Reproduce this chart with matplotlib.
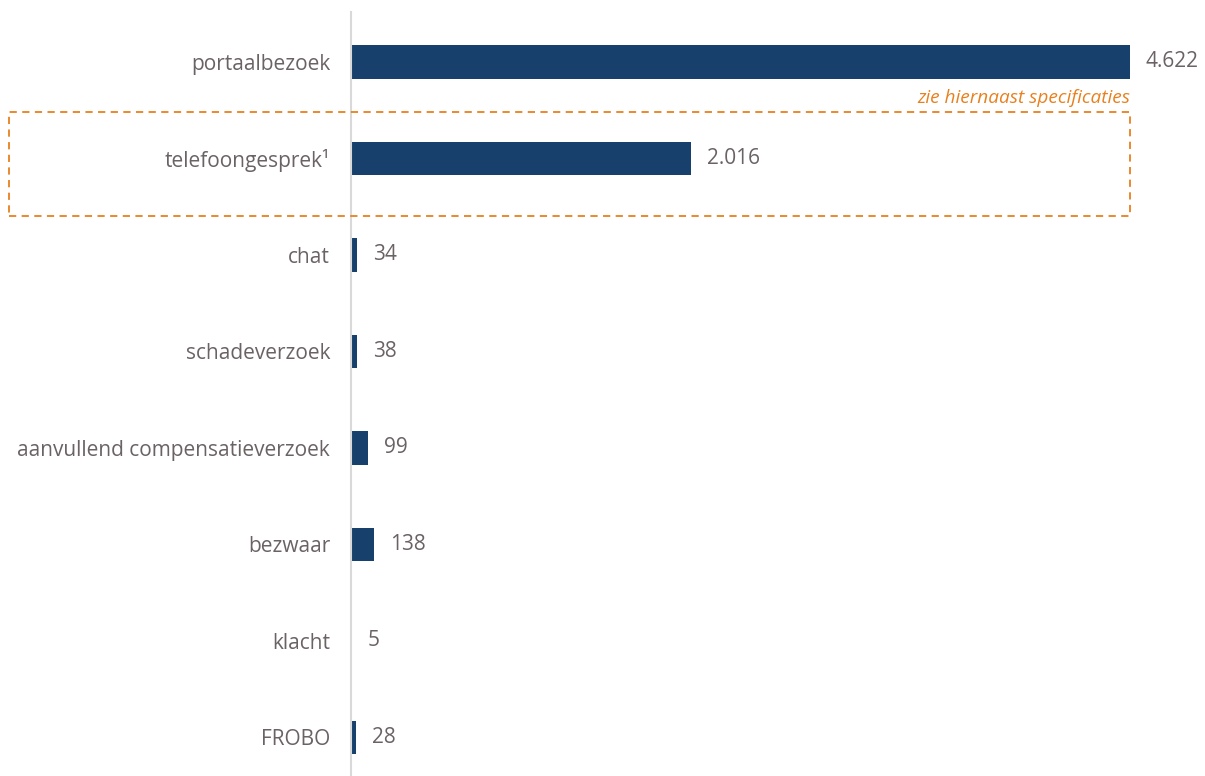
import matplotlib.pyplot as plt
from matplotlib.patches import Rectangle

plt.rcParams['font.family'] = ['Open Sans', 'DejaVu Sans']

categories = ['portaalbezoek', 'telefoongesprek¹', 'chat', 'schadeverzoek',
              'aanvullend compensatieverzoek', 'bezwaar', 'klacht', 'FROBO']
values = [4622, 2016, 34, 38, 99, 138, 5, 28]
value_labels = ['4.622', '2.016', '34', '38', '99', '138', '5', '28']

bar_col = '#17406d'
text_col = '#6b6264'
orange = '#e8801f'

fig = plt.figure(figsize=(12.05, 7.76), dpi=100)
ax = fig.add_axes([351/1205, 0, 842.5/1205, 1 - 12/776])

y = list(range(len(categories)))
ax.barh(y, values, height=0.35, color=bar_col)
ax.set_xlim(0, 5000)
ax.set_ylim(7.4, -0.518)

for yi, v, lab in zip(y, values, value_labels):
    ax.text(v + 95, yi, lab, va='center', ha='left', fontsize=15, color=text_col)

ax.set_yticks(y)
ax.set_yticklabels(categories, fontsize=15, color=text_col)
ax.tick_params(axis='y', length=0, pad=15)
ax.set_xticks([])
for s in ['top', 'right', 'bottom']:
    ax.spines[s].set_visible(False)
ax.spines['left'].set_color('#d9d9d9')
ax.spines['left'].set_linewidth(1.5)

# dashed box round telefoongesprek
fig.patches.append(Rectangle((9/1205, (776-216)/776), 1121/1205, 104/776,
                             transform=fig.transFigure, fill=False,
                             edgecolor=orange, linestyle=(0, (4, 3)), linewidth=1.3))
fig.text(1130/1205, (776-98)/776, 'zie hiernaast specificaties', ha='right', va='center',
         fontsize=13.7, style='italic', color=orange)

fig.savefig('out.png', dpi=100)
